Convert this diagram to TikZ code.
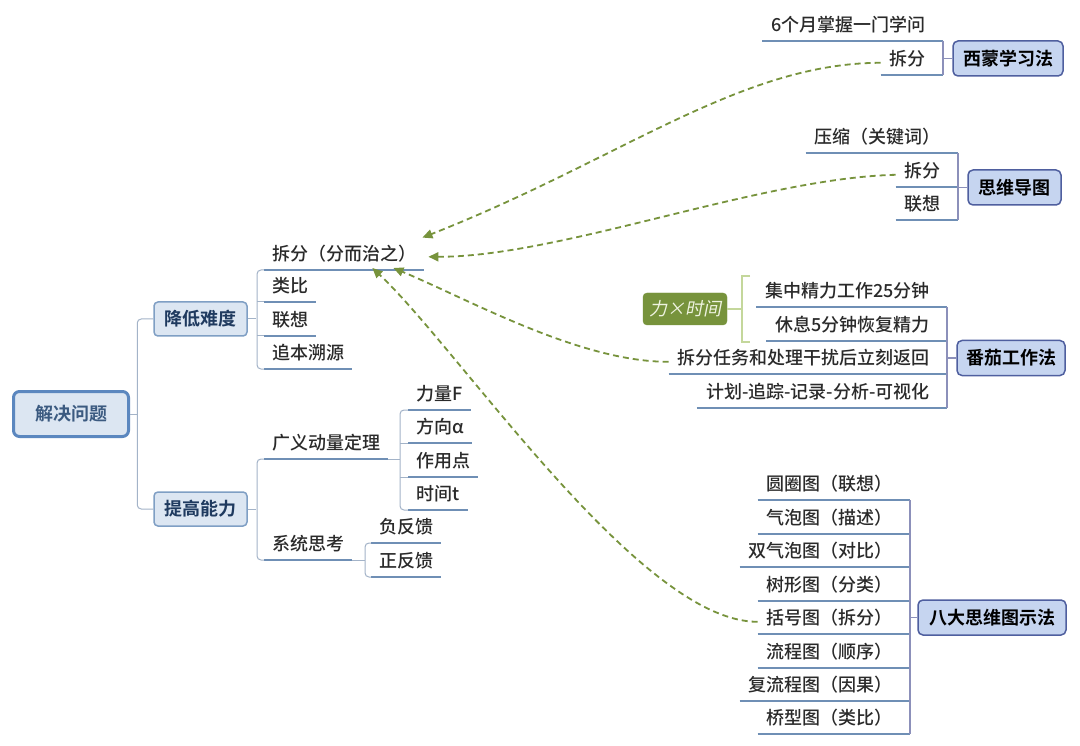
\documentclass[tikz,border=0pt]{standalone}
\usepackage{fontspec}
\setmainfont{Noto Sans CJK SC}[UprightFont={* Medium}, BoldFont={* Bold}]
\newfontfamily\slfont{Noto Sans CJK SC}[FakeSlant=0.2]
\usetikzlibrary{arrows.meta,calc}
\definecolor{uline}{HTML}{6F8FB5}
\definecolor{branch}{HTML}{A3B3C8}
\definecolor{rbranch}{HTML}{8C90BA}
\definecolor{olive}{HTML}{77933C}
\definecolor{olivelight}{HTML}{C4D79B}
\definecolor{boxfill}{HTML}{DCE6F2}
\definecolor{boxdraw}{HTML}{7F9FC4}
\definecolor{rfill}{HTML}{C6D5F0}
\definecolor{rdraw}{HTML}{4F5F9F}
\definecolor{txt}{HTML}{2A2A2A}
\definecolor{rootdraw}{HTML}{5B87BF}
\definecolor{roottxt}{HTML}{3B5A80}
\definecolor{subtxt}{HTML}{1F3A5F}
\definecolor{ltxt}{HTML}{EEF3E0}
\begin{document}
\begin{tikzpicture}[x=1pt,y=-1pt,
  every node/.style={font=\fontsize{18pt}{21pt}\selectfont, text=txt},
  leaf/.style={inner xsep=8pt, inner ysep=0pt, text height=15pt, text depth=9pt},
  rleaf/.style={inner xsep=0pt, inner ysep=0pt, text height=15pt, text depth=9pt,
     execute at begin node={\hspace*{9pt}}, execute at end node={\hspace*{17pt}}, anchor=south east},
  ul/.style={draw=uline, line width=1.7pt},
  br/.style={draw=branch, line width=1pt, rounded corners=4pt},
  rbr/.style={draw=rbranch, line width=1.2pt, rounded corners=3pt},
  rootbox/.style={draw=rootdraw, line width=3pt, fill=boxfill, rounded corners=6pt,
     minimum width=115pt, minimum height=45pt, text=roottxt, font=\fontsize{18pt}{21pt}\selectfont\bfseries},
  subbox/.style={draw=boxdraw, line width=1.5pt, fill=boxfill, rounded corners=4pt,
     minimum width=93pt, minimum height=34pt, text=subtxt, font=\fontsize{18pt}{21pt}\selectfont\bfseries},
  rbox/.style={draw=rdraw, line width=1.5pt, fill=rfill, rounded corners=5pt,
     minimum height=35pt, text=black, font=\fontsize{18pt}{21pt}\selectfont\bfseries},
  darrow/.style={draw=olive, line width=1.8pt, dash pattern=on 6pt off 4pt,
     -{Triangle[length=10pt,width=9pt]}, olive},
]
\useasboundingbox (0,0) rectangle (1080,746);
\fill[white] (0,0) rectangle (1080,746);

% ---------- left tree ----------
\node[rootbox] (root) at (71,414) {解决问题};
\node[subbox] (jd) at (200.5,319) {降低难度};
\node[subbox] (tg) at (200.5,509) {提高能力};
\draw[br] (root.east) -- ++(7,0);
\draw[br] (jd.west) -- ++(-16,0) |- (tg.west);

\node[leaf, anchor=south west] (l1) at (264,270) {拆分（分而治之）};
\node[leaf, anchor=south west] (l2) at (264,302) {类比};
\node[leaf, anchor=south west] (l3) at (264,336) {联想};
\node[leaf, anchor=south west] (l4) at (264,369) {追本溯源};
\foreach \n in {l1,l2,l3,l4} {\draw[ul] (\n.south west) -- (\n.south east);}
\draw[br] (l1.south west) -- ++(-7,0) |- (l4.south west);
\foreach \n in {l2,l3} {\draw[br] (\n.south west) -- ++(-7,0);}
\draw[br] (jd.east) -- ++(8,0);

\node[leaf, anchor=south west] (g1) at (264,459) {广义动量定理};
\node[leaf, anchor=south west] (g2) at (264,560) {系统思考};
\foreach \n in {g1,g2} {\draw[ul] (\n.south west) -- (\n.south east);}
\draw[br] (g1.south west) -- ++(-7,0) |- (g2.south west);
\draw[br] (tg.east) -- ++(8,0);

\node[leaf, anchor=south west] (f1) at (408,410) {力量F};
\node[leaf, anchor=south west] (f2) at (408,443) {方向α};
\node[leaf, anchor=south west] (f3) at (408,477) {作用点};
\node[leaf, anchor=south west] (f4) at (408,510) {时间t};
\foreach \n in {f1,f2,f3,f4} {\draw[ul] (\n.south west) -- (\n.south east);}
\draw[br] (f1.south west) -- ++(-8,0) |- (f4.south west);
\foreach \n in {f2,f3} {\draw[br] (\n.south west) -- ++(-8,0);}
\coordinate (fv) at (400,459);
\draw[br] (g1.south east) -- (fv);

\node[leaf, anchor=south west] (n1) at (371,543) {负反馈};
\node[leaf, anchor=south west] (n2) at (371,577) {正反馈};
\foreach \n in {n1,n2} {\draw[ul] (\n.south west) -- (\n.south east);}
\draw[br] (n1.south west) -- ++(-6,0) |- (n2.south west);
\coordinate (nv) at (365,560);
\draw[br] (g2.south east) -- (nv);

% ---------- right side ----------
\node[rbox, minimum width=110pt] (xm) at (1008,58.5) {西蒙学习法};
\node[rleaf] (s1) at (943,41) {6个月掌握一门学问};
\node[rleaf] (s2) at (943,75) {拆分};
\foreach \n in {s1,s2} {\draw[ul] (\n.south west) -- (\n.south east);}
\draw[rbr] (s1.south east) -- (s2.south east);
\draw[rbr] (xm.west) -- (xm.west -| s1.south east);

\node[rbox, minimum width=93pt] (sw) at (1014.5,187.5) {思维导图};
\node[rleaf] (t1) at (958,153) {压缩（关键词）};
\node[rleaf] (t2) at (958,187) {拆分};
\node[rleaf] (t3) at (958,220) {联想};
\foreach \n in {t1,t2,t3} {\draw[ul] (\n.south west) -- (\n.south east);}
\draw[rbr] (t1.south east) -- (t3.south east);
\draw[rbr] (sw.west) -- (sw.west -| t1.south east);

\node[rbox, minimum width=108pt] (fq) at (1011,358) {番茄工作法};
\node[rleaf] (q1) at (947,307) {集中精力工作25分钟};
\node[rleaf] (q2) at (947,341) {休息5分钟恢复精力};
\node[rleaf] (q3) at (947,374) {拆分任务和处理干扰后立刻返回};
\node[rleaf] (q4) at (947,408) {计划-追踪-记录-分析-可视化};
\foreach \n in {q1,q2,q3,q4} {\draw[ul] (\n.south west) -- (\n.south east);}
\draw[rbr] (q1.south east) -- (q4.south east);
\draw[rbr] (fq.west) -- (fq.west -| q1.south east);

\node[draw=olive, fill=olive, rounded corners=4pt, minimum width=84pt, minimum height=32pt,
      text=ltxt, font=\fontsize{18pt}{21pt}\selectfont\slfont] (lt) at (685,309) {力×时间};
\coordinate (bt) at (750,276);
\coordinate (bb) at (750,342);
\draw[olivelight, line width=2.5pt] (bt) -- ++(-8,0) -- ++(0,66) -- (bb);
\draw[olivelight, line width=1.5pt] (lt.east) -- (lt.east -| 742,0);

\node[rbox, minimum width=148pt] (bd) at (992,617.5) {八大思维图示法};
\node[rleaf] (b1) at (910,500) {圆圈图（联想）};
\node[rleaf] (b2) at (910,534) {气泡图（描述）};
\node[rleaf] (b3) at (910,567) {双气泡图（对比）};
\node[rleaf] (b4) at (910,601) {树形图（分类）};
\node[rleaf] (b5) at (910,634) {括号图（拆分）};
\node[rleaf] (b6) at (910,668) {流程图（顺序）};
\node[rleaf] (b7) at (910,701) {复流程图（因果）};
\node[rleaf] (b8) at (910,734) {桥型图（类比）};
\foreach \n in {b1,b2,b3,b4,b5,b6,b7,b8} {\draw[ul] (\n.south west) -- (\n.south east);}
\draw[rbr] (b1.south east) -- (b8.south east);
\draw[rbr] (bd.west) -- (bd.west -| b1.south east);

% ---------- dashed arrows ----------
\coordinate (a1) at ([shift={(-2,-8)}]l1.north east);
\coordinate (a2) at ([shift={(4,-1)}]l1.east);
\coordinate (a3) at ([shift={(-31,-2)}]l1.south east);
\coordinate (a4) at ([shift={(-52,-2)}]l1.south east);
\draw[darrow] (s2.west) .. controls (740,63) and (620,160) .. (a1);
\draw[darrow] (t2.west) .. controls (760,178) and (560,257) .. (a2);
\draw[darrow] (q3.west) .. controls (580,362) and (470,300) .. (a3);
\draw[darrow] (b5.west) .. controls (640,622) and (460,350) .. (a4);
\end{tikzpicture}
\end{document}
